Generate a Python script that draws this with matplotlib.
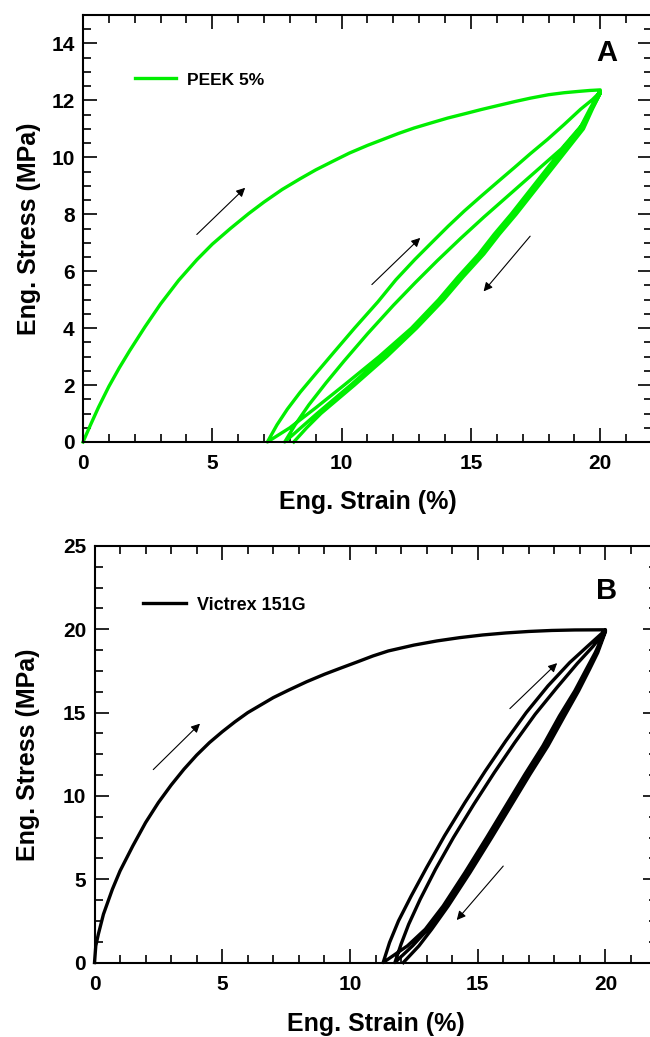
import numpy as np
import matplotlib
matplotlib.use('Agg')
import matplotlib.pyplot as plt
from matplotlib.ticker import MultipleLocator

plt.rcParams['font.family'] = ['Liberation Sans', 'DejaVu Sans']
plt.rcParams['font.weight'] = 'bold'

# ---- panel A: PEEK 5% (strain %, stress MPa) ----
a_load_x = [0, 0.3, 0.6, 1.0, 1.4, 1.8, 2.4, 3.0, 3.7, 4.4, 5.0, 5.7, 6.4, 7.0, 7.7, 8.4, 9.0, 9.7,
            10.3, 11.0, 11.6, 12.2, 12.8, 13.5, 14.1, 14.8, 15.4, 16.0, 16.7, 17.3, 18.0, 18.6,
            19.2, 19.6, 20.0]
a_load_y = [0, 0.62, 1.22, 1.95, 2.6, 3.2, 4.05, 4.85, 5.68, 6.4, 6.95, 7.5, 8.02, 8.43, 8.87,
            9.25, 9.56, 9.88, 10.15, 10.42, 10.63, 10.84, 11.03, 11.22, 11.38, 11.54, 11.68,
            11.81, 11.96, 12.08, 12.2, 12.27, 12.32, 12.35, 12.37]

a_un1_x = [20, 19.6, 19.2, 18.5, 17.85, 17.2, 16.55, 15.9, 15.3, 14.5, 13.75, 12.7, 11.45, 10.1, 9.0, 8.0, 7.13]
a_un1_y = [12.35, 11.7, 11.0, 10.25, 9.5, 8.75, 8.0, 7.3, 6.6, 5.8, 5.0, 4.0, 3.0, 2.0, 1.2, 0.5, 0]
a_re1_x = [7.13, 7.5, 7.9, 8.4, 9.0, 9.7, 10.5, 11.4, 12.1, 12.83, 13.5, 14.12, 14.75, 15.4, 16.05,
           16.68, 17.3, 17.96, 18.6, 19.24, 19.7, 20]
a_re1_y = [0, 0.6, 1.15, 1.75, 2.4, 3.15, 4.0, 4.92, 5.7, 6.41, 7.02, 7.58, 8.12, 8.64, 9.15,
           9.64, 10.13, 10.63, 11.15, 11.69, 12.03, 12.3]
a_un2_x = [20, 19.65, 19.3, 18.6, 17.95, 17.3, 16.65, 16.0, 15.4, 14.6, 13.85, 12.8, 11.6, 10.35, 9.05, 8.3, 7.8]
a_un2_y = [12.3, 11.7, 11.0, 10.25, 9.5, 8.75, 8.0, 7.3, 6.6, 5.8, 5.0, 4.0, 3.0, 2.0, 1.0, 0.4, 0]
a_re2_x = [7.8, 8.2, 8.73, 9.4, 10.1, 11.0, 12.0, 12.85, 13.7, 14.6, 15.5, 16.5, 17.5, 18.5, 19.4, 20]
a_re2_y = [0, 0.6, 1.3, 2.08, 2.85, 3.8, 4.8, 5.6, 6.37, 7.15, 7.9, 8.7, 9.5, 10.3, 11.25, 12.25]
a_un3_x = [20, 19.7, 19.35, 18.7, 18.05, 17.4, 16.75, 16.1, 15.5, 14.7, 13.95, 12.9, 11.75, 10.5, 9.2, 8.65, 8.15]
a_un3_y = [12.25, 11.7, 11.0, 10.25, 9.5, 8.75, 8.0, 7.3, 6.6, 5.8, 5.0, 4.0, 3.0, 2.0, 1.0, 0.5, 0]

# ---- panel B: Victrex 151G ----
b_load_x = [0, 0.05, 0.15, 0.35, 0.7, 1.0, 1.5, 2.0, 2.5, 3.0, 3.5, 4.0, 4.5, 5.0, 5.5, 6.0, 6.5,
            7.0, 7.6, 8.3, 9.0, 9.6, 10.3, 10.9, 11.5, 12.5, 13.4, 14.3, 15.2, 16.1, 17.0, 17.9,
            18.8, 20]
b_load_y = [0, 1.0, 1.7, 2.9, 4.4, 5.5, 7.0, 8.4, 9.6, 10.65, 11.6, 12.45, 13.2, 13.85, 14.45,
            15.0, 15.45, 15.9, 16.35, 16.85, 17.3, 17.65, 18.05, 18.4, 18.7, 19.05, 19.3, 19.5,
            19.66, 19.78, 19.87, 19.93, 19.96, 19.97]

b_un1_x = [20, 19.6, 19.25, 18.8, 18.2, 17.55, 16.85, 16.1, 15.35, 14.5, 13.65, 12.95, 12.25, 11.3]
b_un1_y = [19.95, 18.6, 17.6, 16.3, 14.8, 13.0, 11.3, 9.4, 7.5, 5.4, 3.4, 2.0, 1.0, 0]
b_re1_x = [11.3, 11.55, 11.9, 12.4, 13.0, 13.7, 14.5, 15.3, 16.1, 16.9, 17.75, 18.6, 19.35, 20]
b_re1_y = [0, 1.2, 2.5, 4.0, 5.7, 7.6, 9.6, 11.5, 13.3, 15.0, 16.6, 18.0, 19.05, 19.95]
b_un2_x = [20, 19.65, 19.32, 18.88, 18.3, 17.65, 16.95, 16.2, 15.45, 14.6, 13.75, 13.05, 12.45, 11.76]
b_un2_y = [19.9, 18.6, 17.6, 16.3, 14.8, 13.0, 11.3, 9.4, 7.5, 5.4, 3.4, 2.0, 1.0, 0]
b_re2_x = [11.76, 12.0, 12.3, 12.75, 13.35, 14.05, 14.85, 15.65, 16.45, 17.25, 18.1, 18.9, 19.5, 20]
b_re2_y = [0, 1.1, 2.3, 3.8, 5.6, 7.5, 9.5, 11.4, 13.2, 14.9, 16.5, 17.95, 18.95, 19.9]
b_un3_x = [20, 19.7, 19.38, 18.95, 18.4, 17.75, 17.05, 16.3, 15.55, 14.7, 13.85, 13.2, 12.7, 12.09]
b_un3_y = [19.85, 18.6, 17.6, 16.3, 14.8, 13.0, 11.3, 9.4, 7.5, 5.4, 3.4, 2.0, 1.0, 0]

# direction arrows (start -> end, data units)
a_arrows = [((4.4, 7.29), (6.27, 8.93)), ((11.17, 5.53), (13.04, 7.17)), ((17.29, 7.23), (15.49, 5.29))]
b_arrows = [((2.3, 11.58), (4.13, 14.34)), ((16.26, 15.24), (18.11, 17.97)), ((16.0, 5.79), (14.18, 2.55))]


def join(*segs):
    return np.concatenate([np.asarray(s, dtype=float) for s in segs])


def style_axes(ax, ymax, ymajor, yminor):
    ax.set_xlim(0, 22)
    ax.set_ylim(0, ymax)
    ax.xaxis.set_major_locator(MultipleLocator(5))
    ax.xaxis.set_minor_locator(MultipleLocator(1))
    ax.yaxis.set_major_locator(MultipleLocator(ymajor))
    ax.yaxis.set_minor_locator(MultipleLocator(yminor))
    ax.tick_params(which='both', direction='in', top=True, right=True, width=1.2)
    ax.tick_params(which='major', length=10)
    ax.tick_params(which='minor', length=6)
    ax.tick_params(axis='x', labelsize=15, pad=9)
    ax.tick_params(axis='y', labelsize=15, pad=6)
    for s in ax.spines.values():
        s.set_linewidth(1.5)
    ax.set_xlabel('Eng. Strain (%)', fontsize=18, fontweight='bold')
    ax.set_ylabel('Eng. Stress (MPa)', fontsize=18, fontweight='bold')
    for lab in ax.get_xticklabels() + ax.get_yticklabels():
        lab.set_fontweight('bold')


def draw_arrows(ax, arrows):
    for start, end in arrows:
        ax.annotate('', xy=end, xytext=start,
                    arrowprops=dict(arrowstyle='-|>', color='black', lw=0.8,
                                    mutation_scale=13, shrinkA=0, shrinkB=0))


fig = plt.figure(figsize=(6.5, 10.37), dpi=100)

# panel A
axA = fig.add_axes([0.1277, 0.5738, 1.003 - 0.1277, 0.9855 - 0.5738])
ax_x = join(a_load_x, a_un1_x, a_re1_x, a_un2_x, a_re2_x, a_un3_x)
ax_y = join(a_load_y, a_un1_y, a_re1_y, a_un2_y, a_re2_y, a_un3_y)
axA.plot(ax_x, ax_y, color='#00ee00', lw=2.4, label='PEEK 5%', clip_on=False, solid_joinstyle='round')
style_axes(axA, 15, 2, 0.5)
draw_arrows(axA, a_arrows)
axA.text(0.921, 0.911, 'A', transform=axA.transAxes, fontsize=21, fontweight='bold',
         ha='center', va='center')
axA.legend(loc='center left', bbox_to_anchor=(0.091, 0.848), frameon=False,
           handlelength=2.4, handletextpad=0.6, borderpad=0, borderaxespad=0,
           prop={'weight': 'bold', 'size': 12.5})
axA.xaxis.set_label_coords(0.5, -0.112)
axA.yaxis.set_label_coords(-0.074, 0.5)

# panel B
axB = fig.add_axes([0.1454, 0.0718, 1.010 - 0.1454, 0.4735 - 0.0718])
bx = join(b_load_x, b_un1_x, b_re1_x, b_un2_x, b_re2_x, b_un3_x)
by = join(b_load_y, b_un1_y, b_re1_y, b_un2_y, b_re2_y, b_un3_y)
axB.plot(bx, by, color='black', lw=2.4, label='Victrex 151G', clip_on=False, solid_joinstyle='round')
style_axes(axB, 25, 5, 1.25)
draw_arrows(axB, b_arrows)
axB.text(0.912, 0.892, 'B', transform=axB.transAxes, fontsize=21, fontweight='bold',
         ha='center', va='center')
axB.legend(loc='center left', bbox_to_anchor=(0.086, 0.858), frameon=False,
           handlelength=2.4, handletextpad=0.6, borderpad=0, borderaxespad=0,
           prop={'weight': 'bold', 'size': 13})
axB.xaxis.set_label_coords(0.5, -0.119)
axB.yaxis.set_label_coords(-0.097, 0.5)

fig.savefig('out.png', dpi=100, facecolor='white')
